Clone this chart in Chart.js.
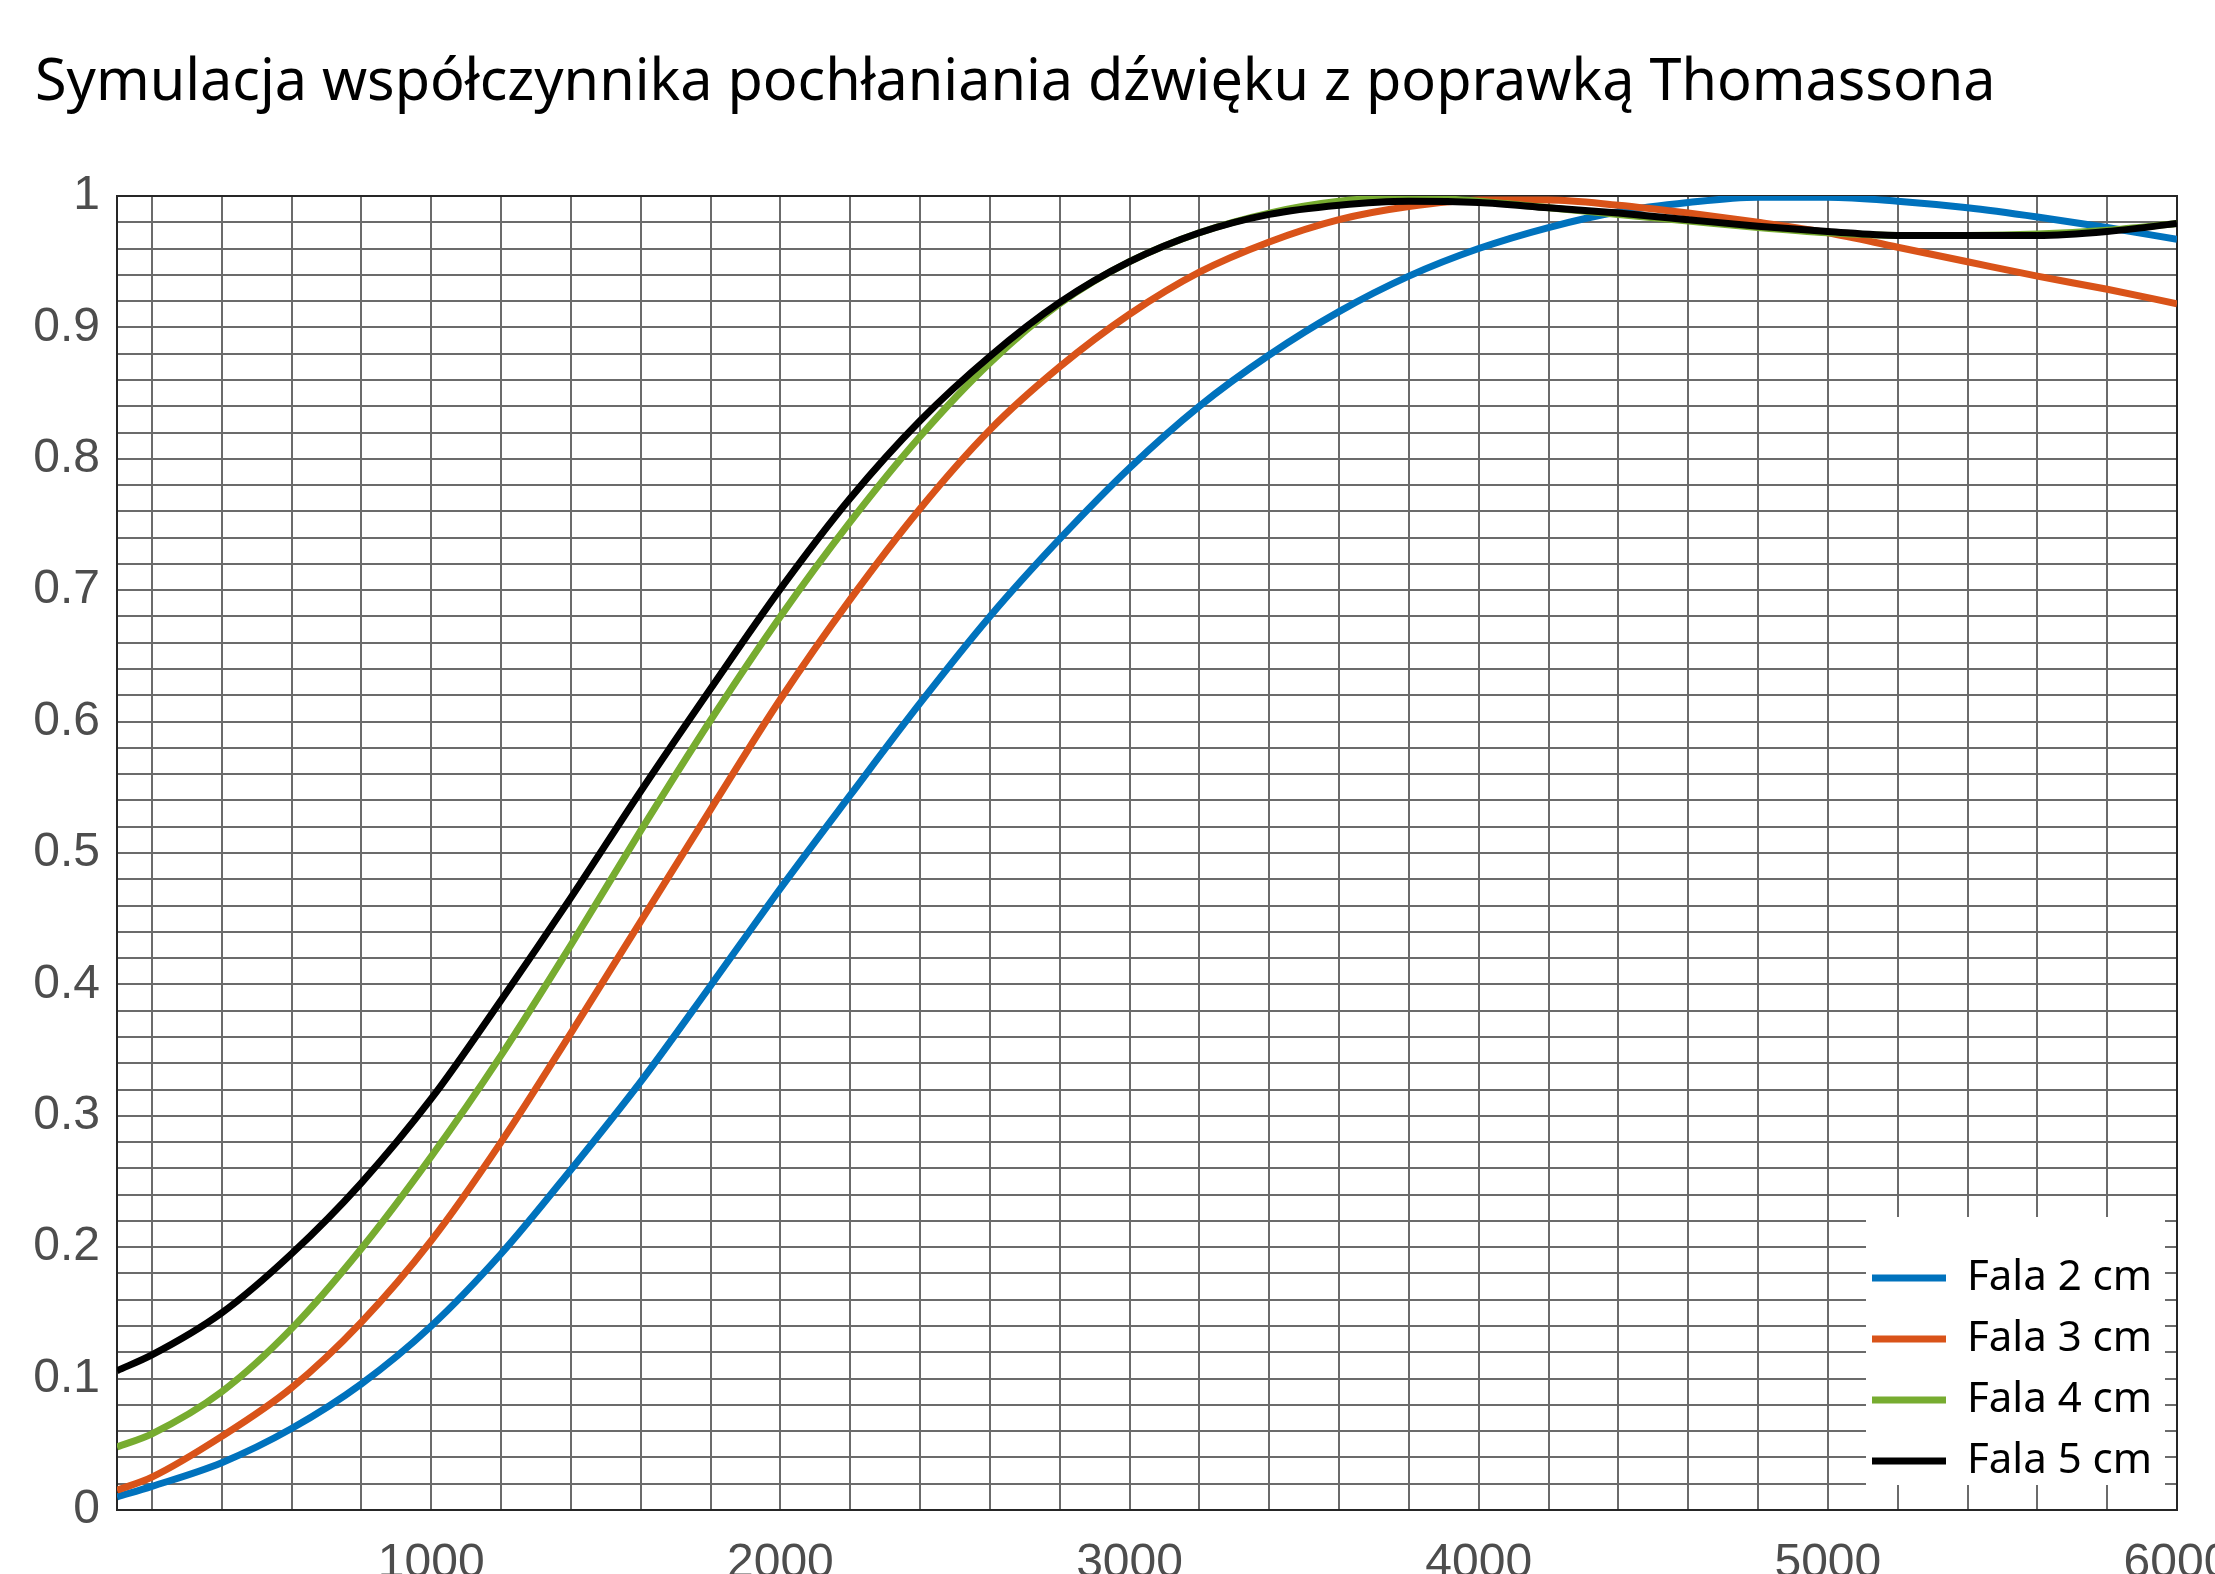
<!DOCTYPE html>
<html>
<head>
<meta charset="utf-8">
<script src="https://cdn.jsdelivr.net/npm/chart.js@4.4.1/dist/chart.umd.min.js"></script>
<style>
  html, body { margin: 0; padding: 0; background: #fff; }
  canvas { display: block; }
</style>
</head>
<body>
<canvas id="absChart" width="2215" height="1574" style="width:2215px;height:1574px"></canvas>
<script>
// Data
const freq = [100, 200, 400, 600, 800, 1000, 1200, 1400, 1600, 1800, 2000, 2200, 2400, 2600, 2800, 3000,
  3200, 3400, 3600, 3800, 4000, 4200, 4400, 4600, 4800, 5000, 5200, 5400, 5600, 5800, 6000];

const fala2 = [0.010, 0.018, 0.036, 0.062, 0.096, 0.140, 0.195, 0.259, 0.326, 0.399, 0.473, 0.544, 0.614, 0.680, 0.739, 0.793,
  0.840, 0.879, 0.912, 0.939, 0.960, 0.976, 0.988, 0.995, 0.999, 0.999, 0.996, 0.991, 0.984, 0.976, 0.967];
const fala3 = [0.015, 0.025, 0.056, 0.093, 0.143, 0.205, 0.280, 0.363, 0.448, 0.533, 0.617, 0.693, 0.762, 0.822, 0.870, 0.910,
  0.942, 0.965, 0.982, 0.992, 0.997, 0.997, 0.993, 0.987, 0.980, 0.972, 0.961, 0.950, 0.939, 0.929, 0.918];
const fala4 = [0.048, 0.058, 0.090, 0.138, 0.199, 0.269, 0.346, 0.430, 0.517, 0.601, 0.680, 0.752, 0.817, 0.873, 0.918, 0.950,
  0.972, 0.987, 0.996, 0.999, 0.996, 0.991, 0.986, 0.981, 0.976, 0.972, 0.970, 0.970, 0.971, 0.974, 0.979];
const fala5 = [0.106, 0.118, 0.150, 0.195, 0.249, 0.313, 0.388, 0.466, 0.547, 0.625, 0.701, 0.770, 0.829, 0.878, 0.919, 0.950,
  0.972, 0.986, 0.993, 0.996, 0.995, 0.991, 0.987, 0.982, 0.977, 0.973, 0.970, 0.970, 0.970, 0.973, 0.979];

const seriesNames = ["Fala 2 cm", "Fala 3 cm", "Fala 4 cm", "Fala 5 cm"];
const seriesColors = ["#0072BD", "#D95319", "#77AC30", "#000000"];

// Tick labels
const xLabels = [1000, 2000, 3000, 4000, 5000, 6000];
const yLabels = [0, 0.1, 0.2, 0.3, 0.4, 0.5, 0.6, 0.7, 0.8, 0.9, 1];

const titleText = "Symulacja współczynnika pochłaniania dźwięku z poprawką Thomassona";

function toPoints(vals) {
  return freq.map((f, i) => ({ x: f, y: vals[i] }));
}

const allSeries = [fala2, fala3, fala4, fala5];
const datasets = allSeries.map((vals, i) => ({
  label: seriesNames[i],
  data: toPoints(vals),
  borderColor: seriesColors[i],
  backgroundColor: seriesColors[i],
  borderWidth: 7,
  pointRadius: 0,
  fill: false,
  cubicInterpolationMode: "monotone",
  order: allSeries.length - i, // later series on top
  clip: 0,
}));

// legend box inside the axes, bottom right
const legendBox = { right: 12, bottom: 25, w: 299, h: 268 };

const axesFrame = {
  id: "axesFrame",
  beforeLayout(chart) {
    const lg = chart.legend;
    if (lg) {
      lg._layers = function () {
        return [{ z: 1, draw: (area) => lg.draw(area) }];
      };
    }
  },
  afterLayout(chart) {
    const a = chart.chartArea;
    const lg = chart.legend;
    const bx = a.right - legendBox.right - legendBox.w;
    const by = a.bottom - legendBox.bottom - legendBox.h;
    lg.left = bx + 6 - 19;
    lg.top = by + 21;
    lg.right = lg.left + 330;
    lg.bottom = lg.top + 320;
  },
  beforeDatasetsDraw(chart) {
    const { ctx, chartArea: a } = chart;
    ctx.save();
    ctx.strokeStyle = "#262626";
    ctx.lineWidth = 2;
    ctx.strokeRect(a.left, a.top, a.right - a.left, a.bottom - a.top);
    ctx.restore();
  },
  afterDatasetsDraw(chart) {
    const { ctx, chartArea: a } = chart;
    ctx.save();
    ctx.fillStyle = "#ffffff";
    ctx.fillRect(a.right - legendBox.right - legendBox.w, a.bottom - legendBox.bottom - legendBox.h,
      legendBox.w, legendBox.h);
    ctx.restore();
  },
};

const config = {
  type: "line",
  data: { datasets: datasets },
  options: {
    responsive: false,
    devicePixelRatio: 1,
    animation: false,
    layout: { padding: { left: 35, right: 38, top: 0, bottom: 0 } },
    plugins: {
      title: {
        display: true,
        text: titleText,
        align: "start",
        color: "#000",
        font: { family: "'Noto Sans', sans-serif", size: 57.5, weight: "normal", lineHeight: 1.2 },
        padding: { top: 49.5, bottom: 77.5 },
      },
      legend: {
        display: true,
        position: "chartArea",
        align: "start",
        labels: {
          boxWidth: 74,
          boxHeight: 7,
          padding: 19,
          color: "#000",
          font: { family: "'Noto Sans', sans-serif", size: 42 },
          sort: (a, b) => a.datasetIndex - b.datasetIndex,
          generateLabels(chart) {
            const items = Chart.defaults.plugins.legend.labels.generateLabels(chart);
            items.forEach((it) => {
              it.fillStyle = it.strokeStyle;
              it.lineWidth = 0;
            });
            return items;
          },
        },
      },
      tooltip: { enabled: false },
    },
    scales: {
      x: {
        type: "linear",
        min: 100,
        max: 6000,
        afterBuildTicks(scale) {
          const t = [{ value: 100 }];
          for (let v = 200; v <= 6000; v += 200) t.push({ value: v });
          scale.ticks = t;
        },
        afterFit(scale) {
          scale.height = 64;
          scale.paddingLeft = 0;
          scale.paddingRight = 0;
        },
        grid: { color: "#6b6b6b", lineWidth: 2, drawTicks: false },
        border: { display: false },
        ticks: {
          autoSkip: false,
          maxRotation: 0,
          minRotation: 0,
          padding: 25,
          color: "#4d4d4d",
          font: { family: "'Liberation Sans', Arial, sans-serif", size: 48 },
          callback: (v) => (xLabels.includes(v) ? String(v) : ""),
        },
      },
      y: {
        min: 0,
        max: 1,
        afterBuildTicks(scale) {
          const t = [];
          for (let k = 0; k <= 50; k++) t.push({ value: k / 50 });
          scale.ticks = t;
        },
        afterFit(scale) {
          scale.width = 82;
        },
        grid: { color: "#6b6b6b", lineWidth: 2, drawTicks: false },
        border: { display: false },
        ticks: {
          autoSkip: false,
          padding: 17,
          color: "#4d4d4d",
          font: { family: "'Liberation Sans', Arial, sans-serif", size: 48 },
          callback: function (v) {
            const hit = yLabels.find((l) => Math.abs(l - v) < 1e-6);
            return hit === undefined ? "" : String(hit);
          },
        },
      },
    },
  },
  plugins: [axesFrame],
};

document.addEventListener("DOMContentLoaded", function () {
  const ctx = document.getElementById("absChart");
  if (ctx) {
    new Chart(ctx, config);
  }
});
</script>
</body>
</html>
